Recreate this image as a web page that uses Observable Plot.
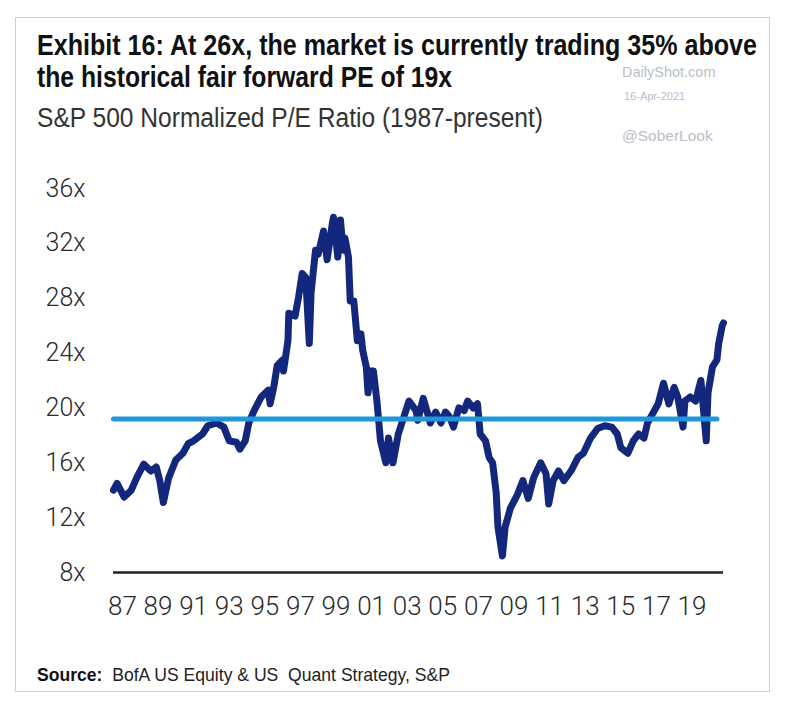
<!DOCTYPE html>
<html>
<head>
<meta charset="utf-8">
<script src="https://cdn.jsdelivr.net/npm/d3@7"></script>
<script src="https://cdn.jsdelivr.net/npm/@observablehq/plot@0.6"></script>
<style>
  html, body { margin: 0; padding: 0; background: #fff; }
  #wrap { position: relative; width: 800px; height: 708px; overflow: hidden; background: #fff; }
  #frame { position: absolute; left: 15px; top: 17px; width: 755px; height: 675px; border: 1.5px solid #cfcfcf; box-sizing: border-box; }
  .t { position: absolute; white-space: nowrap; transform-origin: left top; }
  .sans { font-family: "Liberation Sans", Arial, sans-serif; }
  #title1, #title2 { left: 37px; font-size: 29px; font-weight: bold; color: #111; }
  #title1 { top: 29px; }
  #title2 { top: 61px; }
  #subtitle { left: 37px; top: 103px; font-size: 27px; color: #333; }
  .wm { font-family: "Liberation Sans", Arial, sans-serif; color: #b9bdc9; }
  #wm1 { left: 622px; top: 64px; font-size: 14.5px; }
  #wm2 { left: 624px; top: 90px; font-size: 11px; }
  #wm3 { left: 622px; top: 127px; font-size: 15.5px; }
  #source { left: 37px; top: 664px; font-size: 19px; color: #222; }
  #source b { font-weight: bold; color: #111; }
  #chart { position: absolute; left: 0; top: 150px; }
</style>
</head>
<body>
<div id="wrap">
  <div id="frame"></div>
  <div id="title1" class="t sans">Exhibit 16: At 26x, the market is currently trading 35% above</div>
  <div id="title2" class="t sans">the historical fair forward PE of 19x</div>
  <div id="subtitle" class="t sans">S&amp;P 500 Normalized P/E Ratio (1987-present)</div>
  <div id="wm1" class="t wm">DailyShot.com</div>
  <div id="wm2" class="t wm">16-Apr-2021</div>
  <div id="wm3" class="t wm">@SoberLook</div>
  <div id="source" class="t sans"><b>Source:</b>&nbsp; BofA US Equity &amp; US&nbsp; Quant Strategy, S&amp;P</div>
  <div id="chart"></div>
</div>
<script>
// S&P 500 normalized P/E, decimal years
const years = [
  1987.0, 1987.2, 1987.6, 1988.0, 1988.3, 1988.7, 1989.1, 1989.4, 1989.6, 1989.8,
  1990.1, 1990.5, 1990.9, 1991.2, 1991.5, 1992.0, 1992.3, 1992.8, 1993.2, 1993.5,
  1993.9, 1994.1, 1994.4, 1994.6, 1994.9, 1995.3, 1995.7, 1995.8, 1996.0, 1996.2,
  1996.5, 1996.55, 1996.8, 1996.85, 1997.2, 1997.4, 1997.6, 1997.8, 1998.0, 1998.1,
  1998.35, 1998.5, 1998.8, 1999.0, 1999.3, 1999.36, 1999.6, 1999.75, 1999.9, 2000.0,
  2000.2, 2000.3, 2000.5, 2000.7, 2000.9, 2001.0, 2001.2, 2001.3, 2001.4, 2001.6,
  2001.8, 2002.0, 2002.3, 2002.45, 2002.7, 2003.0, 2003.2, 2003.6, 2004.0, 2004.1,
  2004.4, 2004.8, 2005.1, 2005.4, 2005.65, 2005.9, 2006.1, 2006.4, 2006.7, 2006.9,
  2007.2, 2007.45, 2007.6, 2007.9, 2008.1, 2008.3, 2008.5, 2008.6, 2008.85, 2009.0,
  2009.3, 2009.7, 2010.0, 2010.3, 2010.6, 2011.0, 2011.3, 2011.45, 2011.7, 2012.0,
  2012.3, 2012.7, 2013.1, 2013.4, 2013.8, 2014.2, 2014.6, 2015.0, 2015.3, 2015.5,
  2015.9, 2016.2, 2016.5, 2016.8, 2017.0, 2017.3, 2017.6, 2017.9, 2018.2, 2018.5,
  2018.7, 2019.0, 2019.1, 2019.4, 2019.7, 2020.0, 2020.3, 2020.4, 2020.65, 2020.9,
  2021.0, 2021.2, 2021.27
];
const peRatio = [
  14.0, 14.5, 13.5, 14.0, 14.9, 15.9, 15.4, 15.7, 14.7, 13.1,
  14.9, 16.2, 16.7, 17.4, 17.6, 18.1, 18.7, 18.9, 18.6, 17.6,
  17.5, 17.0, 17.6, 18.9, 19.8, 20.8, 21.3, 20.3, 21.5, 23.1,
  23.5, 22.7, 24.9, 26.9, 26.7, 28.1, 29.8, 29.5, 24.7, 28.4,
  31.5, 31.2, 32.9, 30.8, 33.5, 33.9, 31.0, 33.7, 31.5, 32.4,
  31.0, 27.8, 27.8, 24.9, 25.4, 24.2, 23.0, 21.1, 22.7, 22.7,
  20.5, 17.6, 16.0, 17.8, 16.0, 18.1, 18.9, 20.5, 19.8, 19.1,
  20.7, 18.9, 19.7, 18.9, 19.7, 19.3, 18.6, 20.0, 19.8, 20.5,
  20.0, 20.3, 18.1, 17.6, 16.4, 16.0, 13.8, 11.3, 9.2, 11.3,
  12.7, 13.7, 14.7, 13.4, 14.9, 16.0, 15.2, 13.0, 14.7, 15.4,
  14.7, 15.4, 16.4, 16.7, 17.8, 18.5, 18.7, 18.6, 18.1, 17.1,
  16.7, 17.6, 18.1, 17.8, 18.9, 19.6, 20.3, 21.8, 20.3, 21.5,
  20.8, 18.6, 20.5, 20.8, 20.5, 22.0, 17.6, 21.1, 23.0, 23.5,
  24.7, 26.0, 26.2
];
// Historical fair forward PE line
const fairPE = 19.2;
const fairYears = [1987.0, 2020.9];
// Axis ticks
const yTicks = [8, 12, 16, 20, 24, 28, 32, 36];
const xTickYears = [1987, 1989, 1991, 1993, 1995, 1997, 1999, 2001, 2003, 2005, 2007, 2009, 2011, 2013, 2015, 2017, 2019];
const xTickLabels = ["87","89","91","93","95","97","99","01","03","05","07","09","11","13","15","17","19"];

const series = years.map((y, i) => ({year: y, pe: peRatio[i]}));
const fair = fairYears.map(y => ({year: y, pe: fairPE}));
const labelOf = new Map(xTickYears.map((y, i) => [y + 0.5, xTickLabels[i]]));

const chart = Plot.plot({
  width: 800,
  height: 490,
  marginLeft: 113,
  marginRight: 77,
  marginTop: 38,
  marginBottom: 68,
  style: {fontFamily: "Roboto, 'Liberation Sans', sans-serif", fontWeight: 300, fontSize: "25px", color: "#2a2a2a", background: "transparent"},
  x: {domain: [1987.0, 2021.27]},
  y: {domain: [8, 36]},
  marks: [
    Plot.axisY({ticks: yTicks, tickSize: 0, tickPadding: 28, tickFormat: d => d + "x", fontSize: 25, label: null}),
    Plot.axisX({ticks: xTickYears.map(y => y + 0.5), tickSize: 0, tickPadding: 24, tickFormat: d => labelOf.get(d), fontSize: 26, label: null}),
    Plot.ruleY([8], {stroke: "#222", strokeWidth: 2.5}),
    Plot.line(series, {x: "year", y: "pe", stroke: "#13287c", strokeWidth: 7, strokeLinejoin: "round", strokeLinecap: "round"}),
    Plot.line(fair, {x: "year", y: "pe", stroke: "#1f97d9", strokeWidth: 5, strokeLinecap: "round"})
  ]
});
document.getElementById("chart").appendChild(chart);

// condense the header/footer texts to the widths they take in the reference
function fit(id, w) {
  const el = document.getElementById(id);
  const r = el.getBoundingClientRect().width;
  if (r > 0) el.style.transform = `scaleX(${w / r})`;
}
fit("title1", 720);
fit("title2", 415);
fit("subtitle", 506);
fit("source", 413);
</script>
</body>
</html>
